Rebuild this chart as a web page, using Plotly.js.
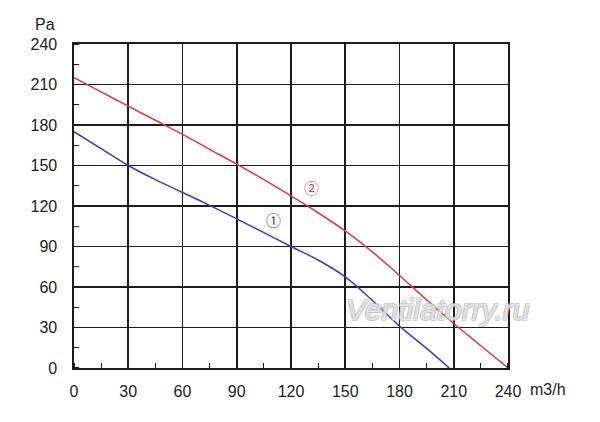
<!DOCTYPE html>
<html>
<head>
<meta charset="utf-8">
<script src="https://cdn.plot.ly/plotly-3.0.1.min.js"></script>
<style>
  html, body { margin: 0; padding: 0; background: #ffffff; }
  #chart { width: 600px; height: 422px; }
</style>
</head>
<body>
<div id="chart"></div>
<script>
// airflow (m3/h) vs static pressure (Pa)
var flowBlue = [0, 15, 30, 45, 60, 75, 90, 105, 120, 135, 150, 165, 180, 195, 207.5];
var pressBlue = [175, 162.5, 150, 139.5, 130, 120.5, 110.5, 100.3, 90, 80, 67.5, 50, 31, 14.5, 0];
var flowRed = [0, 15, 30, 45, 60, 75, 90, 105, 120, 135, 150, 165, 180, 195, 210, 225, 240];
var pressRed = [215, 204.5, 194, 183.5, 173, 162, 151, 139.5, 127.5, 115, 101.5, 86, 68.5, 50.5, 33, 16.5, 0];
var tickVals = [0, 30, 60, 90, 120, 150, 180, 210, 240];
var curveLabels = ["\u2460", "\u2461"];
var labelPos = [[110.5, 110], [131.5, 133.5]];

var BLUE = "#3b3bcc", RED = "#de3b3b";
var GRID = "#1c1c1c";
var FONT = "Liberation Sans, Arial, sans-serif";

var traces = [
  { x: flowBlue, y: pressBlue, type: "scatter", mode: "lines",
    line: { color: BLUE, width: 1.5, shape: "spline", smoothing: 1 }, hoverinfo: "skip", showlegend: false },
  { x: flowRed, y: pressRed, type: "scatter", mode: "lines",
    line: { color: RED, width: 1.5, shape: "spline", smoothing: 1 }, hoverinfo: "skip", showlegend: false }
];

function axis(standoff) {
  return {
    range: [0, 240], tickmode: "array", tickvals: tickVals, ticktext: tickVals.map(String),
    showgrid: true, gridcolor: GRID, gridwidth: 1.6, zeroline: false,
    showline: true, mirror: true, linecolor: GRID, linewidth: 1.6,
    ticks: "", ticklabelstandoff: standoff,
    tickfont: { family: FONT, size: 16, color: "#222" },
    minor: { dtick: 15, tick0: 0, ticks: "inside", ticklen: 5, tickwidth: 1.2, tickcolor: GRID, showgrid: false },
    fixedrange: true
  };
}

var annotations = [
  { text: "Pa", xref: "paper", yref: "paper", x: -0.094, y: 1.0, xanchor: "left", yanchor: "bottom", yshift: 9,
    showarrow: false, font: { family: FONT, size: 16, color: "#222" } },
  { text: "m3/h", xref: "paper", yref: "paper", x: 1.045, y: 0, xanchor: "left", yanchor: "top", yshift: -11,
    showarrow: false, font: { family: FONT, size: 16, color: "#222" } },
  { text: curveLabels[0], x: labelPos[0][0], y: labelPos[0][1], showarrow: false,
    font: { family: "Noto Sans CJK SC, DejaVu Sans, sans-serif", size: 15, color: BLUE } },
  { text: curveLabels[1], x: labelPos[1][0], y: labelPos[1][1], showarrow: false,
    font: { family: "Noto Sans CJK SC, DejaVu Sans, sans-serif", size: 15, color: RED } },
  { text: "Ventilatorry.ru", xref: "paper", yref: "paper", x: 0.838, y: 0.18, xanchor: "center", yanchor: "middle",
    showarrow: false,
    font: { family: FONT, size: 30, style: "italic", color: "rgba(255,255,255,0.55)",
      shadow: "1px 1px 0 #b4b4b4, -1px -1px 0 #b4b4b4, 1px -1px 0 #b4b4b4, -1px 1px 0 #b4b4b4" } }
];

var layout = {
  width: 600, height: 422,
  paper_bgcolor: "#ffffff", plot_bgcolor: "#ffffff",
  margin: { l: 74, r: 92, t: 44, b: 54 },
  xaxis: axis(8),
  yaxis: axis(12),
  annotations: annotations,
  showlegend: false
};

Plotly.newPlot("chart", traces, layout, { displayModeBar: false, staticPlot: true });
</script>
</body>
</html>
